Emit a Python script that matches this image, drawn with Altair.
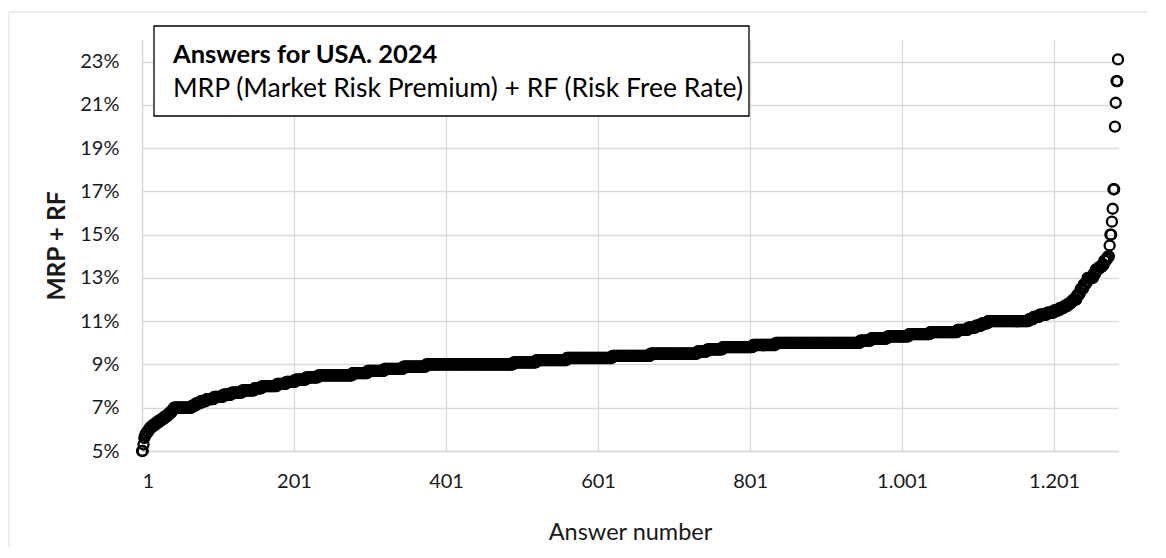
import altair as alt
import numpy as np
import pandas as pd

# Sorted survey answers, read as (value in %, number of answers)
answer_values = [5.0, 5.3, 5.6, 5.7, 5.8, 5.9, 6.0, 6.1, 6.2, 6.3, 6.4, 6.5, 6.6, 6.7, 6.8, 6.9,
                 7.0, 7.1, 7.2, 7.3, 7.4, 7.5, 7.6, 7.7, 7.8, 7.9,
                 8.0, 8.1, 8.2, 8.3, 8.4, 8.5, 8.6, 8.7, 8.8, 8.9,
                 9.0, 9.1, 9.2, 9.3, 9.4, 9.5, 9.6, 9.7, 9.8, 9.9,
                 10.0, 10.1, 10.2, 10.3, 10.4, 10.5, 10.6, 10.7, 10.8, 10.9,
                 11.0, 11.1, 11.2, 11.3, 11.4, 11.5, 11.6, 11.7, 11.8, 11.9,
                 12.0, 12.2, 12.3, 12.5, 12.7, 12.8, 13.0, 13.2, 13.4, 13.5, 13.6, 13.8, 13.9,
                 14.0, 14.5, 15.0, 15.6, 16.2, 17.1, 20.0, 21.1, 22.1, 23.1]
answer_counts = [2, 1, 1, 1, 2, 2, 2, 3, 4, 4, 4, 4, 4, 3, 3, 2,
                 24, 5, 6, 8, 10, 12, 11, 14, 16, 10,
                 20, 12, 12, 14, 16, 45, 20, 22, 25, 30,
                 115, 30, 40, 60, 50, 62, 13, 20, 40, 30,
                 111, 14, 22, 28, 28, 36, 14, 10, 8, 8,
                 54, 6, 8, 10, 9, 7, 6, 5, 4, 3,
                 5, 3, 2, 4, 3, 2, 8, 3, 4, 4, 3, 3, 2,
                 2, 1, 2, 1, 1, 2, 1, 1, 2, 1]

y_ticks = [0.05, 0.07, 0.09, 0.11, 0.13, 0.15, 0.17, 0.19, 0.21, 0.23]
x_ticks = [1, 201, 401, 601, 801, 1001, 1201]

title_line1 = "Answers for USA. 2024"
title_line2 = "MRP (Market Risk Premium) + RF (Risk Free Rate)"
y_title = "MRP + RF"
x_title = "Answer number"

answers = np.repeat(np.array(answer_values), np.array(answer_counts)) / 100.0
n = len(answers)
df = pd.DataFrame({"answer": np.arange(1, n + 1), "value": answers})
one = pd.DataFrame({"a": [0]})

FONT = "Lato"
TXT = "#1a1a1a"

border = alt.Chart(one).mark_rect(filled=False, stroke="#d9d9d9", strokeWidth=1).encode(
    x=alt.value(-133), x2=alt.value(1060), y=alt.value(-28), y2=alt.value(600)
)

points = alt.Chart(df).mark_point(
    shape="circle", filled=False, size=100, strokeWidth=2.3, color="black", opacity=1
).encode(
    x=alt.X("answer:Q",
            scale=alt.Scale(domain=[1, n], nice=False, zero=False),
            axis=alt.Axis(values=x_ticks, title=x_title,
                          labelExpr="replace(format(datum.value, ','), ',', '.')",
                          labelBaseline="alphabetic", labelPadding=36,
                          titleX=488, titleY=88, titleBaseline="alphabetic",
                          titleFontSize=23.5, titleFontWeight="normal",
                          domainColor="#d9d9d9")),
    y=alt.Y("value:Q",
            scale=alt.Scale(domain=[0.05, 0.24], nice=False, zero=False),
            axis=alt.Axis(values=y_ticks, format=".0%", title=y_title,
                          labelPadding=23, labelBaseline="middle",
                          titleX=-85, titleY=205.5, titleAngle=270,
                          titleBaseline="middle", titleAlign="center",
                          titleFontSize=24.5, titleFontWeight="bold",
                          domainColor="#d9d9d9")),
)

box = alt.Chart(one).mark_rect(fill="white", stroke="black", strokeWidth=1.3).encode(
    x=alt.value(12), x2=alt.value(607), y=alt.value(-14), y2=alt.value(76)
)
t1 = alt.Chart(one).mark_text(align="left", baseline="alphabetic", font=FONT, fontSize=25.5,
                              fontWeight="bold", color="black").encode(
    x=alt.value(31), y=alt.value(23), text=alt.value(title_line1)
)
t2 = alt.Chart(one).mark_text(align="left", baseline="alphabetic", font=FONT, fontSize=26.5,
                              color="black").encode(
    x=alt.value(31), y=alt.value(57), text=alt.value(title_line2)
)

chart = alt.layer(border, points, box, t1, t2).properties(
    width=976, height=411,
    autosize=alt.AutoSizeParams(type="none"),
    padding={"left": 134, "top": 32, "right": 30, "bottom": 96},
).configure_view(strokeWidth=0).configure_axis(
    grid=True, gridColor="#d9d9d9", gridWidth=1.3, domainWidth=1.3,
    ticks=False, tickSize=0,
    labelFont=FONT, labelFontSize=20, labelColor=TXT,
    titleFont=FONT, titleColor=TXT,
)

chart.save("out.html", embed_options={"renderer": "svg", "actions": False})
